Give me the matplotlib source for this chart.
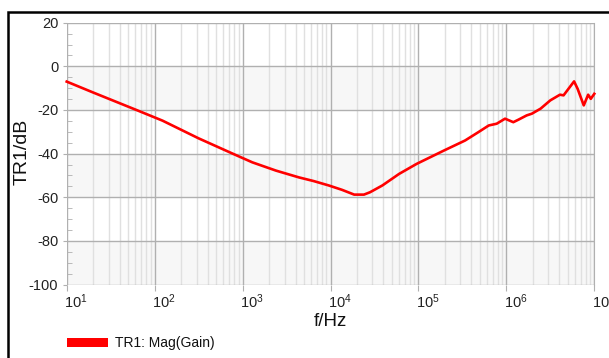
import math
import matplotlib
matplotlib.use("Agg")
import matplotlib.pyplot as plt
import matplotlib.ticker as mticker
import matplotlib.transforms as mtransforms
from matplotlib.patches import Rectangle

plt.rcParams['font.family'] = ['Liberation Sans', 'DejaVu Sans']
plt.rcParams['mathtext.fontset'] = 'custom'
plt.rcParams['mathtext.rm'] = 'Liberation Sans'
plt.rcParams['mathtext.it'] = 'Liberation Sans'
plt.rcParams['mathtext.default'] = 'regular'
plt.rcParams['axes.unicode_minus'] = False

# ---- data ----
freq_hz = [10, 20, 62, 123, 316, 770, 1290, 2400, 4370, 6450, 9550, 13500,
           18600, 24000, 28200, 38900, 60300, 95500, 195000, 339000, 479000,
           631000, 776000, 966000, 1.2e6, 1.38e6, 1.7e6, 1.95e6, 2.45e6,
           3.16e6, 4.07e6, 4.47e6, 5.89e6, 6.46e6, 7.59e6, 8.51e6, 9.12e6, 1e7]
gain_db = [-7.0, -12.0, -20.0, -24.9, -33.0, -40.0, -44.0, -47.8, -50.9,
           -52.6, -54.6, -56.6, -58.8, -58.8, -57.7, -54.6, -49.3, -44.7,
           -38.6, -34.0, -30.2, -27.1, -26.3, -24.0, -25.6, -24.4, -22.5,
           -21.7, -19.4, -15.6, -13.0, -13.3, -6.9, -10.3, -17.9, -13.0,
           -14.9, -12.6]
y_ticks = [20, 0, -20, -40, -60, -80, -100]
x_ticks = [1e1, 1e2, 1e3, 1e4, 1e5, 1e6, 1e7]
series_label = "TR1: Mag(Gain)"
x_label = "f/Hz"
y_label = "TR1/dB"

W, H = 609, 358
fig = plt.figure(figsize=(W / 100, H / 100), dpi=100)
fig.patch.set_facecolor('white')

# outer black frame (extends beyond right/bottom edges)
fig.patches.append(Rectangle((7.5 / W, -0.2), 1.5, 1 - 12 / H + 0.2,
                             transform=fig.transFigure, fill=False,
                             edgecolor='black', linewidth=1.8, zorder=0))

left, right = 66.7 / W, 594.3 / W
top, bottom = 1 - 22.7 / H, 1 - 284.5 / H
ax = fig.add_axes([left, bottom, right - left, top - bottom])
ax.set_facecolor('white')

ax.set_xscale('log')
ax.set_xlim(10, 1e7)
ax.set_ylim(-100, 20)

# alternating bands
for lo in [-20, -60, -100]:
    ax.axhspan(lo, lo + 20, color='#f7f7f7', zorder=0, lw=0)

ax.set_yticks(y_ticks)
ax.yaxis.set_minor_locator(mticker.MultipleLocator(5))
ax.set_xticks(x_ticks)
ax.set_xticklabels([r'$10^{%d}$' % round(math.log10(v)) for v in x_ticks])
ax.xaxis.set_minor_locator(mticker.LogLocator(base=10, subs=range(2, 10), numticks=20))
ax.xaxis.set_minor_formatter(mticker.NullFormatter())

ax.grid(which='major', axis='both', color='#b0b0b0', linewidth=1.0, zorder=1)
ax.grid(which='minor', axis='x', color='#e0e0e0', linewidth=1.0, zorder=1)
ax.set_axisbelow(True)

for s in ax.spines.values():
    s.set_visible(False)
ax.spines['right'].set_visible(True)
ax.spines['right'].set_color('#b0b0b0')

ax.tick_params(axis='y', which='major', direction='out', length=3, color='#b0b0b0',
               labelsize=10.5, pad=3, labelcolor='#222222')
ax.tick_params(axis='y', which='minor', direction='in', length=3.5, color='#b0b0b0')
ax.tick_params(axis='x', which='major', direction='out', length=4, color='#b0b0b0',
               labelsize=10.5, pad=2, labelcolor='#222222')
ax.tick_params(axis='x', which='minor', length=0)

offset = mtransforms.ScaledTranslation(-2.5 / 100, 0, fig.dpi_scale_trans)
for lbl in ax.get_xticklabels():
    lbl.set_horizontalalignment('left')
    lbl.set_transform(lbl.get_transform() + offset)

ax.plot(freq_hz, gain_db, color='#ff0000', linewidth=1.9, zorder=3, clip_on=False)

fig.text(330 / W, 1 - 322 / H, x_label, ha='center', va='center', fontsize=13.5,
         color='#111111')
fig.text(22 / W, 1 - 152 / H, y_label, ha='center', va='center', rotation=90,
         fontsize=14, color='#111111')

# legend
fig.patches.append(Rectangle((66.7 / W, 1 - 347.3 / H), 41.6 / W, 9 / H,
                             transform=fig.transFigure, facecolor='#ff0000',
                             edgecolor='none'))
fig.text(115 / W, 1 - 342.7 / H, series_label, ha='left', va='center',
         fontsize=10, color='#111111')

fig.savefig('out.png', dpi=100)
